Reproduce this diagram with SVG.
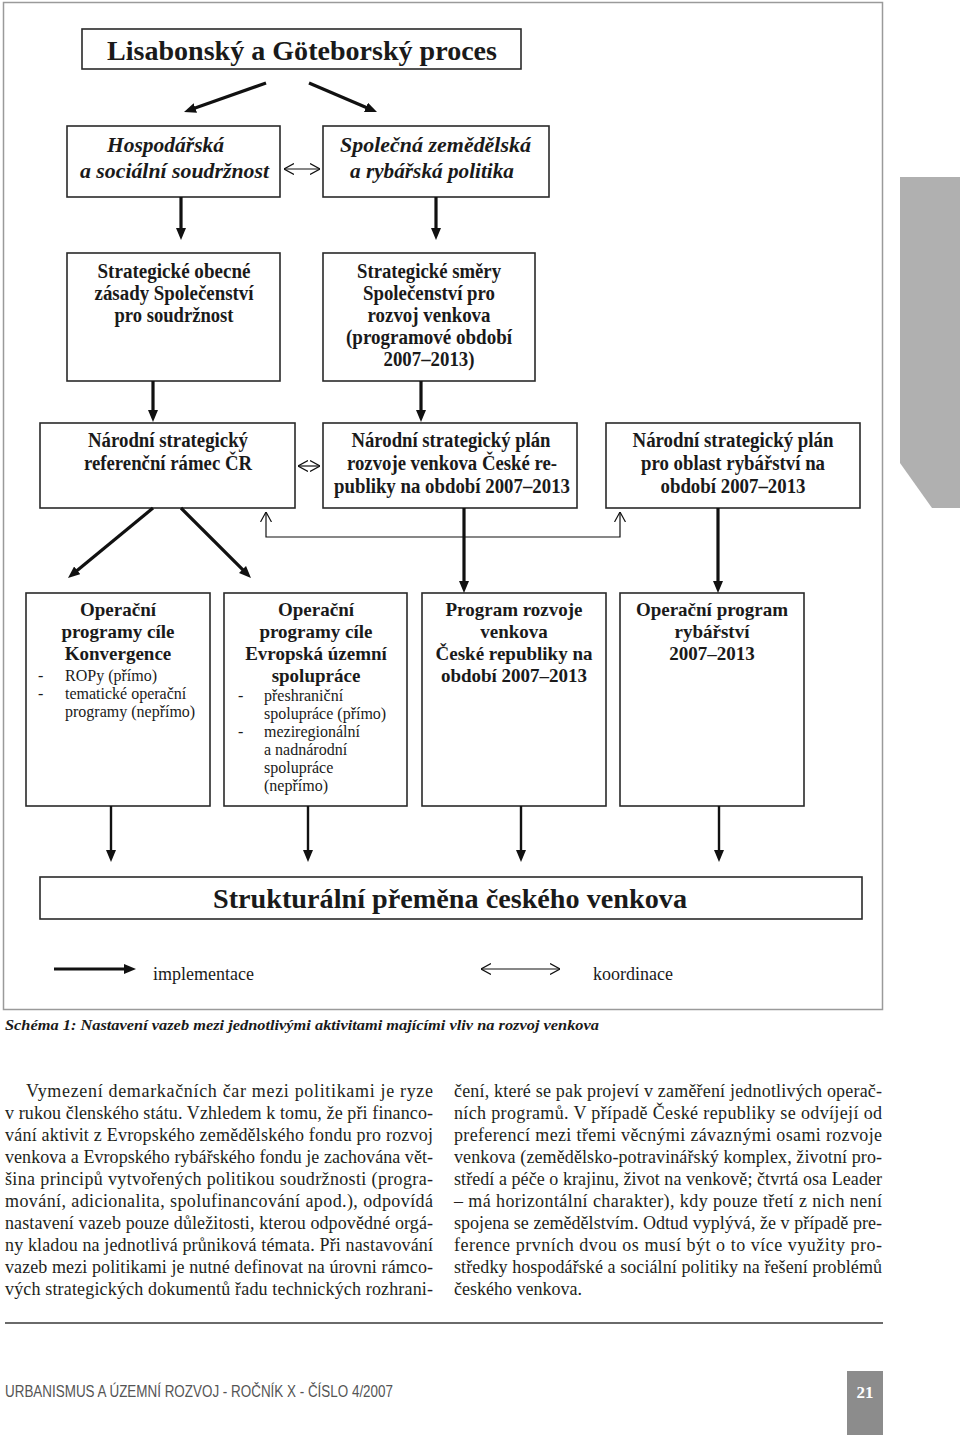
<svg xmlns="http://www.w3.org/2000/svg" width="960" height="1435" viewBox="0 0 960 1435">
<style>
.box{fill:#fff;stroke:#2a2a2a;stroke-width:1.6}
.b{font-family:"Liberation Serif","Times New Roman",serif;font-weight:bold;fill:#1a1a1a;text-anchor:middle}
.bi{font-family:"Liberation Serif","Times New Roman",serif;font-weight:bold;font-style:italic;fill:#1a1a1a}
.r{font-family:"Liberation Serif","Times New Roman",serif;fill:#1a1a1a}
.impl{stroke:#111;stroke-width:3.2;fill:none}
.impl2{stroke:#111;stroke-width:2.4;fill:none}
.coord{stroke:#111;stroke-width:1.2;fill:none}
.body{font-family:"Liberation Serif","Times New Roman",serif;font-size:18px;fill:#231f20}
</style>
<defs>
<marker id="ah" viewBox="0 0 12 10" refX="1" refY="5" markerWidth="12" markerHeight="10" markerUnits="userSpaceOnUse" orient="auto"><path d="M0,0 L12,5 L0,10 z" fill="#111"/></marker>
<marker id="ch" viewBox="0 0 10 12" refX="10" refY="6" markerWidth="10" markerHeight="12" markerUnits="userSpaceOnUse" orient="auto-start-reverse"><path d="M0,0.5 L10,6 L0,11.5" fill="none" stroke="#111" stroke-width="1.2"/></marker>
</defs>

<!-- page decorations -->
<rect x="3.5" y="2.5" width="879" height="1007" fill="none" stroke="#9a9a9a" stroke-width="1.5"/>
<polygon points="900,177 960,177 960,508 932,508 900,463" fill="#b0b0b0"/>

<g id="n-title">
<rect class="box" x="82" y="29" width="439" height="40"/>
<text class="b" x="302" y="60" font-size="28" textLength="390" lengthAdjust="spacingAndGlyphs">Lisabonský a Göteborský proces</text>
</g>

<g id="n-hosp">
<rect class="box" x="67" y="126" width="213" height="71"/>
<text class="bi" x="107" y="152" font-size="21" textLength="117" lengthAdjust="spacingAndGlyphs">Hospodářská</text>
<text class="bi" x="80" y="178" font-size="21" textLength="189" lengthAdjust="spacingAndGlyphs">a sociální soudržnost</text>
</g>

<g id="n-spol">
<rect class="box" x="323" y="126" width="226" height="71"/>
<text class="bi" x="340" y="152" font-size="21" textLength="191" lengthAdjust="spacingAndGlyphs">Společná zemědělská</text>
<text class="bi" x="350" y="178" font-size="21" textLength="164" lengthAdjust="spacingAndGlyphs">a rybářská politika</text>
</g>

<g id="n-sosz">
<rect class="box" x="67" y="253" width="213" height="128"/>
<text class="b" x="174" y="278" font-size="20" textLength="153" lengthAdjust="spacingAndGlyphs">Strategické obecné</text>
<text class="b" x="174" y="300" font-size="20" textLength="159" lengthAdjust="spacingAndGlyphs">zásady Společenství</text>
<text class="b" x="174" y="322" font-size="20" textLength="119" lengthAdjust="spacingAndGlyphs">pro soudržnost</text>
</g>

<g id="n-ssrv">
<rect class="box" x="323" y="253" width="212" height="128"/>
<text class="b" x="429" y="278" font-size="20" textLength="144" lengthAdjust="spacingAndGlyphs">Strategické směry</text>
<text class="b" x="429" y="300" font-size="20" textLength="132" lengthAdjust="spacingAndGlyphs">Společenství pro</text>
<text class="b" x="429" y="322" font-size="20" textLength="123" lengthAdjust="spacingAndGlyphs">rozvoj venkova</text>
<text class="b" x="429" y="344" font-size="20" textLength="166" lengthAdjust="spacingAndGlyphs">(programové období</text>
<text class="b" x="429" y="366" font-size="20" textLength="91" lengthAdjust="spacingAndGlyphs">2007–2013)</text>
</g>

<g id="n-nsrr">
<rect class="box" x="40" y="423" width="255" height="85"/>
<text class="b" x="168" y="447" font-size="20" textLength="160" lengthAdjust="spacingAndGlyphs">Národní strategický</text>
<text class="b" x="168" y="470" font-size="20" textLength="168" lengthAdjust="spacingAndGlyphs">referenční rámec ČR</text>
</g>

<g id="n-nsprv">
<rect class="box" x="323" y="423" width="254" height="85"/>
<text class="b" x="451" y="447" font-size="20" textLength="199" lengthAdjust="spacingAndGlyphs">Národní strategický plán</text>
<text class="b" x="452" y="470" font-size="20" textLength="210" lengthAdjust="spacingAndGlyphs">rozvoje venkova České re-</text>
<text class="b" x="452" y="493" font-size="20" textLength="236" lengthAdjust="spacingAndGlyphs">publiky na období 2007–2013</text>
</g>

<g id="n-nspr">
<rect class="box" x="606" y="423" width="254" height="85"/>
<text class="b" x="733" y="447" font-size="20" textLength="201" lengthAdjust="spacingAndGlyphs">Národní strategický plán</text>
<text class="b" x="733" y="470" font-size="20" textLength="184" lengthAdjust="spacingAndGlyphs">pro oblast rybářství na</text>
<text class="b" x="733" y="493" font-size="20" textLength="145" lengthAdjust="spacingAndGlyphs">období 2007–2013</text>
</g>

<g id="n-opk">
<rect class="box" x="26" y="593" width="184" height="213"/>
<text class="b" x="118" y="616" font-size="19">Operační</text>
<text class="b" x="118" y="638" font-size="19">programy cíle</text>
<text class="b" x="118" y="660" font-size="19">Konvergence</text>
<text class="r" font-size="16"><tspan x="38" y="681">-</tspan><tspan x="65" y="681">ROPy (přímo)</tspan></text>
<text class="r" font-size="16"><tspan x="38" y="699">-</tspan><tspan x="65" y="699">tematické operační</tspan></text>
<text class="r" font-size="16" x="65" y="717">programy (nepřímo)</text>
</g>

<g id="n-opeus">
<rect class="box" x="224" y="593" width="183" height="213"/>
<text class="b" x="316" y="616" font-size="19">Operační</text>
<text class="b" x="316" y="638" font-size="19">programy cíle</text>
<text class="b" x="316" y="660" font-size="19">Evropská územní</text>
<text class="b" x="316" y="682" font-size="19">spolupráce</text>
<text class="r" font-size="16"><tspan x="238" y="701">-</tspan><tspan x="264" y="701">přeshraniční</tspan></text>
<text class="r" font-size="16" x="264" y="719">spolupráce (přímo)</text>
<text class="r" font-size="16"><tspan x="238" y="737">-</tspan><tspan x="264" y="737">meziregionální</tspan></text>
<text class="r" font-size="16" x="264" y="755">a nadnárodní</text>
<text class="r" font-size="16" x="264" y="773">spolupráce</text>
<text class="r" font-size="16" x="264" y="791">(nepřímo)</text>
</g>

<g id="n-prv">
<rect class="box" x="422" y="593" width="184" height="213"/>
<text class="b" x="514" y="616" font-size="19">Program rozvoje</text>
<text class="b" x="514" y="638" font-size="19">venkova</text>
<text class="b" x="514" y="660" font-size="19">České republiky na</text>
<text class="b" x="514" y="682" font-size="19">období 2007–2013</text>
</g>

<g id="n-opr">
<rect class="box" x="620" y="593" width="184" height="213"/>
<text class="b" x="712" y="616" font-size="19">Operační program</text>
<text class="b" x="712" y="638" font-size="19">rybářství</text>
<text class="b" x="712" y="660" font-size="19">2007–2013</text>
</g>

<g id="n-struct">
<rect class="box" x="40" y="877" width="822" height="42"/>
<text class="b" x="450" y="908" font-size="28" textLength="474" lengthAdjust="spacingAndGlyphs">Strukturální přeměna českého venkova</text>
</g>

<g id="connectors">
<line class="impl" x1="266" y1="83" x2="194.4" y2="108.3" marker-end="url(#ah)"/>
<line class="impl" x1="309" y1="83" x2="366.9" y2="107.7" marker-end="url(#ah)"/>
<line class="coord" x1="284" y1="169" x2="320" y2="169" marker-start="url(#ch)" marker-end="url(#ch)"/>
<line class="impl" x1="181" y1="197" x2="181" y2="229" marker-end="url(#ah)"/>
<line class="impl" x1="436" y1="197" x2="436" y2="229" marker-end="url(#ah)"/>
<line class="impl" x1="153" y1="381" x2="153" y2="411" marker-end="url(#ah)"/>
<line class="impl" x1="421" y1="381" x2="421" y2="411" marker-end="url(#ah)"/>
<line class="coord" x1="298" y1="466" x2="320" y2="466" marker-start="url(#ch)" marker-end="url(#ch)"/>
<path class="coord" d="M266,512 V537 H620 V512" marker-start="url(#ch)" marker-end="url(#ch)"/>
<line class="impl" x1="153" y1="508" x2="76.5" y2="571" marker-end="url(#ah)"/>
<line class="impl" x1="181" y1="508" x2="243.2" y2="570.2" marker-end="url(#ah)"/>
<line class="impl" x1="464" y1="508" x2="464" y2="582" marker-end="url(#ah)"/>
<line class="impl" x1="718" y1="508" x2="718" y2="582" marker-end="url(#ah)"/>
<line class="impl2" x1="111" y1="806" x2="111" y2="851" marker-end="url(#ah)"/>
<line class="impl2" x1="308" y1="806" x2="308" y2="851" marker-end="url(#ah)"/>
<line class="impl2" x1="521" y1="806" x2="521" y2="851" marker-end="url(#ah)"/>
<line class="impl2" x1="719" y1="806" x2="719" y2="851" marker-end="url(#ah)"/>
</g>

<g id="legend">
<line class="impl" x1="54" y1="969" x2="125" y2="969" stroke-width="4" marker-end="url(#ah)"/>
<text class="r" x="153" y="980" font-size="18">implementace</text>
<line class="coord" x1="481" y1="969" x2="560" y2="969" marker-start="url(#ch)" marker-end="url(#ch)"/>
<text class="r" x="593" y="980" font-size="18">koordinace</text>
</g>

<text class="bi" x="5" y="1030" font-size="15" textLength="594" lengthAdjust="spacingAndGlyphs">Schéma 1: Nastavení vazeb mezi jednotlivými aktivitami majícími vliv na rozvoj venkova</text>

<g id="body-left" class="body">
<text x="26" y="1097" textLength="407" lengthAdjust="spacing">Vymezení demarkačních čar mezi politikami je ryze</text>
<text x="5" y="1119" textLength="428" lengthAdjust="spacing">v rukou členského státu. Vzhledem k tomu, že při financo-</text>
<text x="5" y="1141" textLength="428" lengthAdjust="spacing">vání aktivit z Evropského zemědělského fondu pro rozvoj</text>
<text x="5" y="1163" textLength="428" lengthAdjust="spacing">venkova a Evropského rybářského fondu je zachována vět-</text>
<text x="5" y="1185" textLength="428" lengthAdjust="spacing">šina principů vytvořených politikou soudržnosti (progra-</text>
<text x="5" y="1207" textLength="428" lengthAdjust="spacing">mování, adicionalita, spolufinancování apod.), odpovídá</text>
<text x="5" y="1229" textLength="428" lengthAdjust="spacing">nastavení vazeb pouze důležitosti, kterou odpovědné orgá-</text>
<text x="5" y="1251" textLength="428" lengthAdjust="spacing">ny kladou na jednotlivá průniková témata. Při nastavování</text>
<text x="5" y="1273" textLength="428" lengthAdjust="spacing">vazeb mezi politikami je nutné definovat na úrovni rámco-</text>
<text x="5" y="1295" textLength="428" lengthAdjust="spacing">vých strategických dokumentů řadu technických rozhrani-</text>
</g>

<g id="body-right" class="body">
<text x="454" y="1097" textLength="428" lengthAdjust="spacing">čení, které se pak projeví v zaměření jednotlivých operač-</text>
<text x="454" y="1119" textLength="428" lengthAdjust="spacing">ních programů. V případě České republiky se odvíjejí od</text>
<text x="454" y="1141" textLength="428" lengthAdjust="spacing">preferencí mezi třemi věcnými závaznými osami rozvoje</text>
<text x="454" y="1163" textLength="428" lengthAdjust="spacing">venkova (zemědělsko-potravinářský komplex, životní pro-</text>
<text x="454" y="1185" textLength="428" lengthAdjust="spacing">středí a péče o krajinu, život na venkově; čtvrtá osa Leader</text>
<text x="454" y="1207" textLength="428" lengthAdjust="spacing">– má horizontální charakter), kdy pouze třetí z nich není</text>
<text x="454" y="1229" textLength="428" lengthAdjust="spacing">spojena se zemědělstvím. Odtud vyplývá, že v případě pre-</text>
<text x="454" y="1251" textLength="428" lengthAdjust="spacing">ference prvních dvou os musí být o to více využity pro-</text>
<text x="454" y="1273" textLength="428" lengthAdjust="spacing">středky hospodářské a sociální politiky na řešení problémů</text>
<text x="454" y="1295">českého venkova.</text>
</g>

<line x1="5" y1="1323" x2="883" y2="1323" stroke="#6a6a6a" stroke-width="2"/>
<text x="5" y="1397" font-family="'Liberation Sans',Arial,sans-serif" font-size="16" fill="#555" textLength="388" lengthAdjust="spacingAndGlyphs">URBANISMUS A ÚZEMNÍ ROZVOJ - ROČNÍK X - ČÍSLO 4/2007</text>
<rect x="847" y="1371" width="36" height="64" fill="#8c8c8c"/>
<text x="865" y="1398" font-family="'Liberation Serif','Times New Roman',serif" font-weight="bold" font-size="17" fill="#fff" text-anchor="middle">21</text>
</svg>
